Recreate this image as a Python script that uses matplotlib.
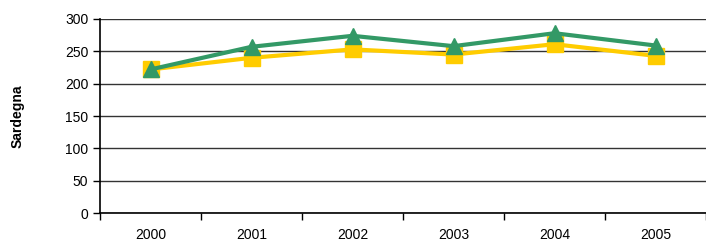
import matplotlib.pyplot as plt
import numpy as np

plt.rcParams['font.family'] = ['Liberation Sans', 'DejaVu Sans']

years = ["2000", "2001", "2002", "2003", "2004", "2005"]
green_vals = [222, 257, 274, 258, 278, 259]
yellow_vals = [222, 240, 253, 245, 261, 243]

fig = plt.figure(figsize=(7.06, 2.47), dpi=100)
ax = fig.add_axes([100 / 706, 34 / 247, 606 / 706, 194 / 247])

x = np.arange(len(years))
ax.plot(x, yellow_vals, color="#FFCC00", lw=3, marker="s", markersize=12,
        markerfacecolor="#FFCC00", markeredgecolor="#FFCC00", zorder=3)
ax.plot(x, green_vals, color="#339966", lw=3, marker="^", markersize=12,
        markerfacecolor="#339966", markeredgecolor="#339966", zorder=4)

ax.set_xlim(-0.5, len(years) - 0.5)
ax.set_ylim(0, 300)
ax.set_yticks(range(0, 301, 50))
ax.tick_params(axis='y', labelsize=10, direction='out', length=5, width=1)
ax.yaxis.grid(True, color="#333333", lw=1)
ax.set_axisbelow(True)

# category boundaries get the tick marks, labels sit in between
ax.set_xticks(np.arange(-0.5, len(years), 1))
ax.set_xticklabels([])
ax.set_xticks(x, minor=True)
ax.set_xticklabels(years, minor=True)
ax.tick_params(axis='x', which='major', direction='out', length=5, width=1)
ax.tick_params(axis='x', which='minor', length=0, labelsize=10, pad=11)

for s in ["top", "right"]:
    ax.spines[s].set_visible(False)
ax.spines["left"].set_linewidth(1.2)
ax.spines["bottom"].set_linewidth(1.2)

ax.set_ylabel("Sardegna", fontsize=10, fontweight="bold", labelpad=29)

plt.savefig("out.png", dpi=100)
